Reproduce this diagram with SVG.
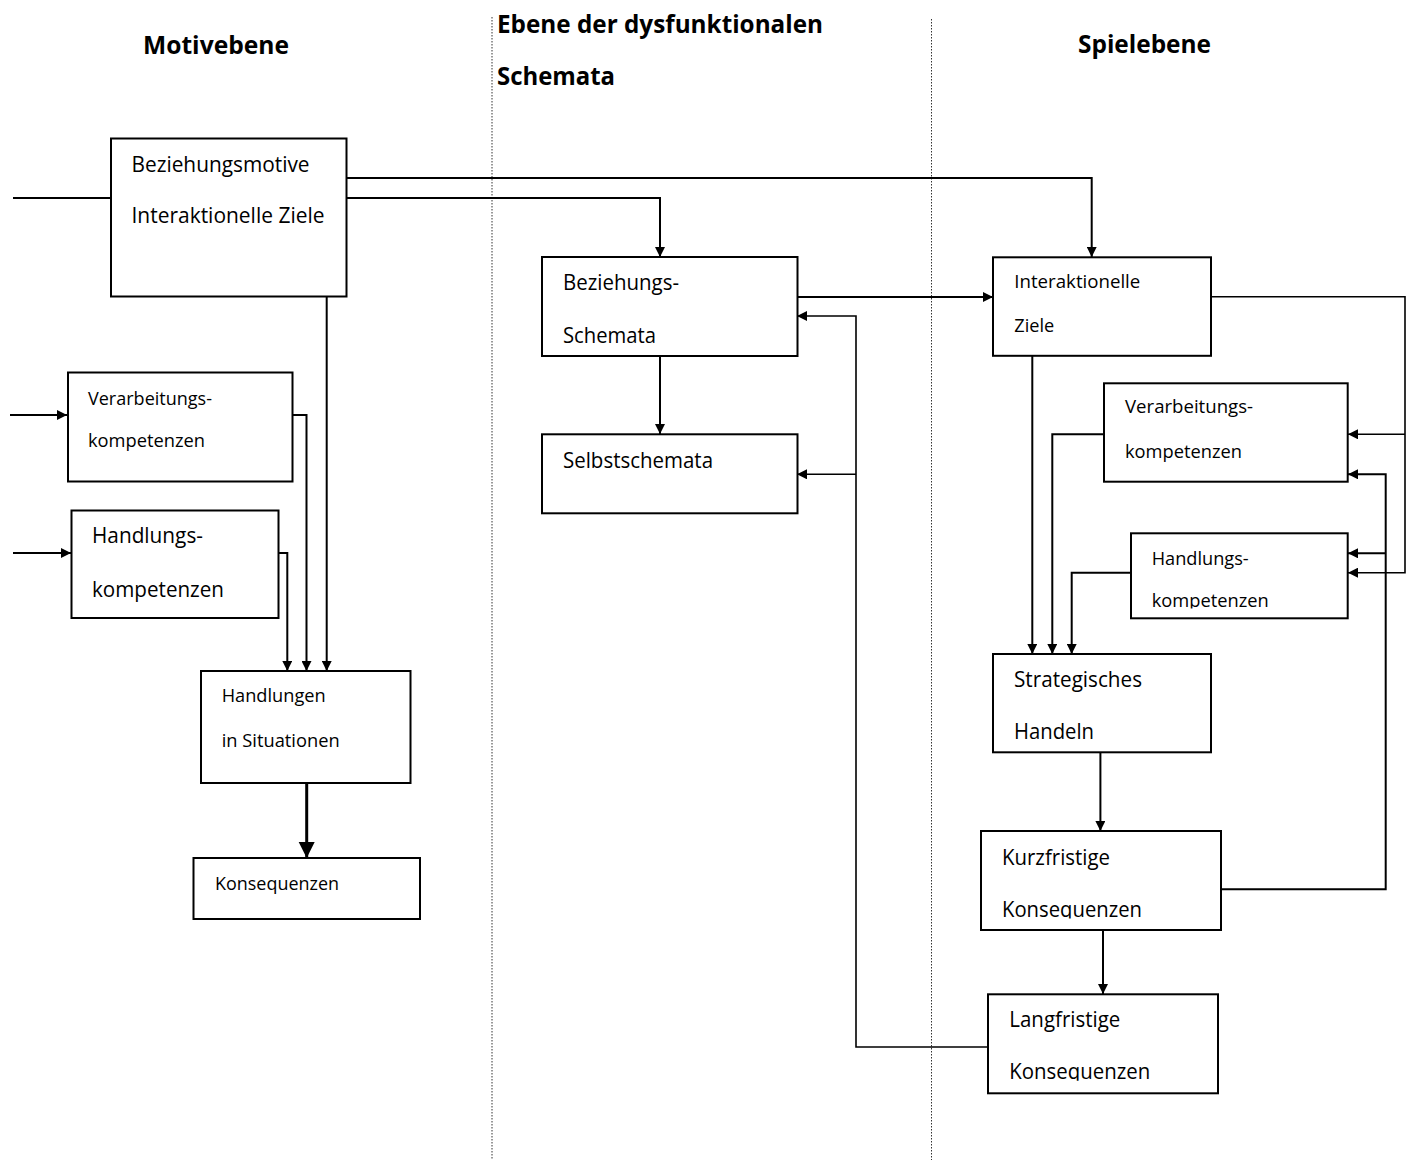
<svg xmlns="http://www.w3.org/2000/svg" width="1411" height="1160" viewBox="0 0 1411 1160">
<style>
.bg{fill:#fff}
.box{fill:#fff;stroke:#000;stroke-width:2}
.t{font-family:"Open Sans","Noto Sans","Liberation Sans",sans-serif;fill:#000}
.s{font-size:18.5px}
.m{font-size:21px}
.h{font-size:25.5px;font-weight:bold}
.c{fill:none;stroke:#000;stroke-width:2}
.ct{fill:none;stroke:#000;stroke-width:1.6}
.cb{fill:none;stroke:#000;stroke-width:3}
.dot{stroke:#333;stroke-width:1;stroke-dasharray:1.5 1.5}
</style>
<defs>
<marker id="a" viewBox="0 0 10 10" refX="10" refY="5" markerWidth="11" markerHeight="10" markerUnits="userSpaceOnUse" orient="auto"><path d="M0,0 L10,5 L0,10 z" fill="#000"/></marker>
<marker id="ab" viewBox="0 0 10 10" refX="10" refY="5" markerWidth="16" markerHeight="17" markerUnits="userSpaceOnUse" orient="auto"><path d="M0,0 L10,5 L0,10 z" fill="#000"/></marker>
<clipPath id="clipHR"><rect x="1130" y="530" width="220" height="78.5"/></clipPath>
<clipPath id="clipKK"><rect x="980" y="830" width="242" height="88.5"/></clipPath>
<clipPath id="clipLK"><rect x="987" y="993" width="232" height="87.7"/></clipPath>
</defs>
<rect class="bg" x="0" y="0" width="1411" height="1160"/>

<g id="separators">
<line class="dot" x1="492" y1="17" x2="492" y2="1160"/>
<line class="dot" x1="931.5" y1="19" x2="931.5" y2="1160"/>
</g>

<g id="headers">
<text class="t h" x="143" y="54" textLength="146" lengthAdjust="spacingAndGlyphs">Motivebene</text>
<text class="t h" x="497" y="33" textLength="326" lengthAdjust="spacingAndGlyphs">Ebene der dysfunktionalen</text>
<text class="t h" x="497" y="85" textLength="118" lengthAdjust="spacingAndGlyphs">Schemata</text>
<text class="t h" x="1078" y="53" textLength="133" lengthAdjust="spacingAndGlyphs">Spielebene</text>
</g>

<g id="connectors">
<path class="c" d="M13,198 H111"/>
<path class="c" d="M10,415 H67" marker-end="url(#a)"/>
<path class="c" d="M13,553 H71" marker-end="url(#a)"/>
<path class="c" d="M292,415 H306.5 V671" marker-end="url(#a)"/>
<path class="c" d="M279,553 H287.3 V671" marker-end="url(#a)"/>
<path class="c" d="M326.7,293 V671" marker-end="url(#a)"/>
<path class="cb" d="M306.7,783 V858" marker-end="url(#ab)"/>
<path class="c" d="M346,178 H1091.7 V257" marker-end="url(#a)"/>
<path class="c" d="M346,198 H660 V257" marker-end="url(#a)"/>
<path class="c" d="M797,297 H993" marker-end="url(#a)"/>
<path class="c" d="M660,356 V434" marker-end="url(#a)"/>
<path class="ct" d="M988,1047 H856 V316 H797" marker-end="url(#a)"/>
<path class="ct" d="M856,474.3 H797" marker-end="url(#a)"/>
<path class="c" d="M1032.3,356 V654" marker-end="url(#a)"/>
<path class="c" d="M1104,434.3 H1052.3 V654" marker-end="url(#a)"/>
<path class="c" d="M1131,572.7 H1071.7 V654" marker-end="url(#a)"/>
<path class="ct" d="M1211,296.7 H1405 V572.7 H1348" marker-end="url(#a)"/>
<path class="ct" d="M1405,434.3 H1348" marker-end="url(#a)"/>
<path class="c" d="M1221,889.3 H1385.7 V474.3 H1348" marker-end="url(#a)"/>
<path class="c" d="M1385.7,553.3 H1348" marker-end="url(#a)"/>
<path class="c" d="M1100.4,752 V831" marker-end="url(#a)"/>
<path class="c" d="M1103,930 V994" marker-end="url(#a)"/>
</g>

<g id="beziehungsmotive">
<rect class="box" x="111" y="138.5" width="235.5" height="158"/>
<text class="t m" x="131.5" y="172" textLength="178" lengthAdjust="spacingAndGlyphs">Beziehungsmotive</text>
<text class="t m" x="131.5" y="223" textLength="193" lengthAdjust="spacingAndGlyphs">Interaktionelle Ziele</text>
</g>

<g id="verarbeitung-links">
<rect class="box" x="68" y="372.5" width="224.5" height="109"/>
<text class="t s" x="88" y="405" textLength="124" lengthAdjust="spacingAndGlyphs">Verarbeitungs-</text>
<text class="t s" x="88" y="447" textLength="117" lengthAdjust="spacingAndGlyphs">kompetenzen</text>
</g>

<g id="handlung-links">
<rect class="box" x="71.5" y="510.5" width="207" height="107.5"/>
<text class="t m" x="92" y="543" textLength="111" lengthAdjust="spacingAndGlyphs">Handlungs-</text>
<text class="t m" x="92" y="597" textLength="132" lengthAdjust="spacingAndGlyphs">kompetenzen</text>
</g>

<g id="handlungen">
<rect class="box" x="201" y="671" width="209.5" height="112"/>
<text class="t s" x="221.7" y="702" textLength="104" lengthAdjust="spacingAndGlyphs">Handlungen</text>
<text class="t s" x="221.7" y="747" textLength="118" lengthAdjust="spacingAndGlyphs">in Situationen</text>
</g>

<g id="konsequenzen">
<rect class="box" x="193.5" y="858" width="226.5" height="61"/>
<text class="t s" x="215" y="890" textLength="124" lengthAdjust="spacingAndGlyphs">Konsequenzen</text>
</g>

<g id="beziehungsschemata">
<rect class="box" x="542" y="257" width="255.5" height="99"/>
<text class="t m" x="563" y="290" textLength="116" lengthAdjust="spacingAndGlyphs">Beziehungs-</text>
<text class="t m" x="563" y="343" textLength="93" lengthAdjust="spacingAndGlyphs">Schemata</text>
</g>

<g id="selbstschemata">
<rect class="box" x="542" y="434.3" width="255.5" height="79"/>
<text class="t m" x="563" y="468" textLength="150" lengthAdjust="spacingAndGlyphs">Selbstschemata</text>
</g>

<g id="interaktionelle-ziele">
<rect class="box" x="993" y="257.3" width="218" height="98.5"/>
<text class="t s" x="1014.3" y="288" textLength="126" lengthAdjust="spacingAndGlyphs">Interaktionelle</text>
<text class="t s" x="1014.3" y="332" textLength="40" lengthAdjust="spacingAndGlyphs">Ziele</text>
</g>

<g id="verarbeitung-rechts">
<rect class="box" x="1104" y="383.3" width="243.7" height="98.4"/>
<text class="t s" x="1125" y="413" textLength="128" lengthAdjust="spacingAndGlyphs">Verarbeitungs-</text>
<text class="t s" x="1125" y="458" textLength="117" lengthAdjust="spacingAndGlyphs">kompetenzen</text>
</g>

<g id="handlung-rechts">
<rect class="box" x="1131" y="533.3" width="216.7" height="85"/>
<text class="t s" x="1151.7" y="565" textLength="97" lengthAdjust="spacingAndGlyphs">Handlungs-</text>
<text class="t s" x="1151.7" y="606.8" textLength="117" lengthAdjust="spacingAndGlyphs" clip-path="url(#clipHR)">kompetenzen</text>
</g>

<g id="strategisches-handeln">
<rect class="box" x="993" y="654" width="218" height="98.3"/>
<text class="t m" x="1014" y="687" textLength="128" lengthAdjust="spacingAndGlyphs">Strategisches</text>
<text class="t m" x="1014" y="739" textLength="80" lengthAdjust="spacingAndGlyphs">Handeln</text>
</g>

<g id="kurzfristige">
<rect class="box" x="981" y="831" width="240" height="99"/>
<text class="t m" x="1002" y="865" textLength="108" lengthAdjust="spacingAndGlyphs">Kurzfristige</text>
<text class="t m" x="1002" y="916.7" textLength="140" lengthAdjust="spacingAndGlyphs" clip-path="url(#clipKK)">Konsequenzen</text>
</g>

<g id="langfristige">
<rect class="box" x="988" y="994.3" width="230" height="99"/>
<text class="t m" x="1009.3" y="1027.3" textLength="111" lengthAdjust="spacingAndGlyphs">Langfristige</text>
<text class="t m" x="1009.3" y="1079.3" textLength="141" lengthAdjust="spacingAndGlyphs" clip-path="url(#clipLK)">Konsequenzen</text>
</g>
</svg>
